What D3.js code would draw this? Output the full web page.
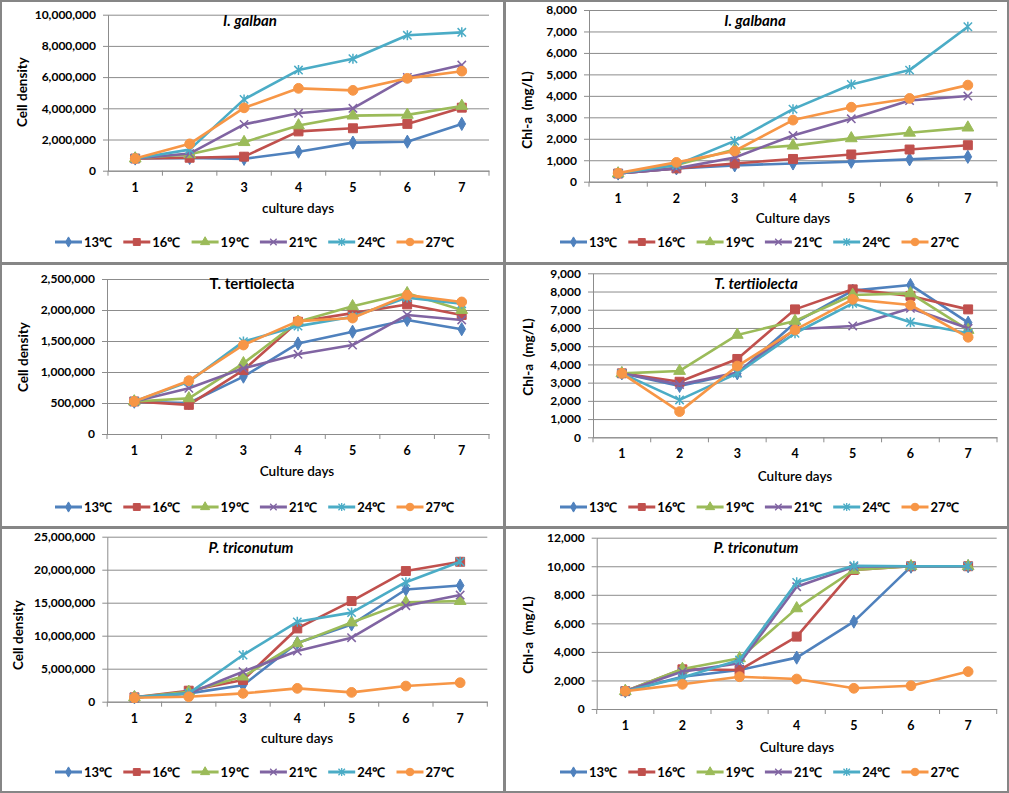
<!DOCTYPE html>
<html><head><meta charset="utf-8">
<script src="https://cdn.jsdelivr.net/npm/d3@7"></script>
<style>
body{margin:0;background:#fff}
text{font-family:Lato,"Open Sans",sans-serif;fill:#000}
</style>
</head><body>
<svg id="c" width="1009" height="793"></svg>
<script>
// ---------- DATA ----------
const days = [1, 2, 3, 4, 5, 6, 7];
const seriesNames = ["13℃", "16℃", "19℃", "21℃", "24℃", "27℃"];

// rows: 13℃, 16℃, 19℃, 21℃, 24℃, 27℃ ; columns: day 1..7
const galbanCell = [
  [780000, 820000, 760000, 1220000, 1800000, 1860000, 3000000],
  [780000, 830000, 900000, 2520000, 2720000, 3000000, 4040000],
  [780000, 1050000, 1830000, 2900000, 3530000, 3580000, 4150000],
  [780000, 1100000, 2970000, 3680000, 4000000, 5980000, 6770000],
  [780000, 1350000, 4570000, 6450000, 7180000, 8680000, 8870000],
  [780000, 1720000, 4030000, 5280000, 5150000, 5920000, 6380000]
];
const galbanaChl = [
  [380, 620, 760, 850, 930, 1040, 1160],
  [380, 620, 850, 1060, 1270, 1500, 1700],
  [380, 780, 1500, 1680, 2020, 2280, 2520],
  [380, 620, 1130, 2150, 2930, 3780, 3990],
  [380, 780, 1900, 3380, 4530, 5200, 7220],
  [400, 900, 1430, 2870, 3470, 3880, 4500]
];
const tertCell = [
  [521000, 500000, 925000, 1460000, 1650000, 1840000, 1690000],
  [525000, 470000, 1030000, 1810000, 1950000, 2090000, 1920000],
  [525000, 575000, 1140000, 1810000, 2060000, 2270000, 2000000],
  [525000, 737000, 1060000, 1285000, 1435000, 1920000, 1840000],
  [525000, 844000, 1490000, 1740000, 1890000, 2200000, 2100000],
  [525000, 860000, 1435000, 1820000, 1870000, 2240000, 2130000]
];
const tertChl = [
  [3510, 2820, 3510, 6290, 8050, 8360, 6290],
  [3510, 3050, 4300, 7020, 8120, 7760, 7020],
  [3510, 3640, 5620, 6380, 7810, 7900, 5890],
  [3510, 2900, 3550, 5930, 6110, 7080, 5980],
  [3510, 2050, 3510, 5710, 7350, 6310, 5710],
  [3510, 1410, 3910, 5890, 7570, 7260, 5490]
];
const phaeoCell = [
  [660000, 1260000, 2500000, 8900000, 11700000, 17000000, 17600000],
  [660000, 1670000, 3280000, 11100000, 15250000, 19800000, 21200000],
  [660000, 1500000, 3800000, 8840000, 12000000, 15050000, 15250000],
  [660000, 1260000, 4550000, 7680000, 9700000, 14550000, 16160000],
  [660000, 1260000, 7070000, 12100000, 13500000, 18100000, 21200000],
  [600000, 760000, 1260000, 2020000, 1410000, 2370000, 2880000]
];
const phaeoChl = [
  [1250, 2260, 2730, 3600, 6120, 9970, 10000],
  [1250, 2780, 2730, 5070, 9740, 10000, 10000],
  [1250, 2800, 3550, 7050, 9740, 10000, 10000],
  [1250, 2620, 3200, 8570, 9970, 10000, 10000],
  [1250, 2200, 3430, 8870, 10040, 10000, 10000],
  [1250, 1730, 2260, 2100, 1450, 1630, 2620]
];

const ticksCell10M = [0, 2000000, 4000000, 6000000, 8000000, 10000000];
const ticksChl8k = [0, 1000, 2000, 3000, 4000, 5000, 6000, 7000, 8000];
const ticksCell2_5M = [0, 500000, 1000000, 1500000, 2000000, 2500000];
const ticksChl9k = [0, 1000, 2000, 3000, 4000, 5000, 6000, 7000, 8000, 9000];
const ticksCell25M = [0, 5000000, 10000000, 15000000, 20000000, 25000000];
const ticksChl12k = [0, 2000, 4000, 6000, 8000, 10000, 12000];

const titles = ["I. galban", "I. galbana", "T. tertiolecta", "T. tertiiolecta", "P. triconutum", "P. triconutum"];
const yLabels = ["Cell density", "Chl-a  (mg/L)", "Cell density", "Chl-a  (mg/L)", "Cell density", "Chl-a  (mg/L)"];
const xLabels = ["culture days", "Culture days", "Culture days", "Culture days", "culture days", "Culture days"];

// ---------- STYLE / LAYOUT ----------
const colors = ["#4F81BD", "#C0504D", "#9BBB59", "#8064A2", "#4BACC6", "#F79646"];

const xSym = { draw(ctx, size) { const r = Math.sqrt(size) / 2; ctx.moveTo(-r, -r); ctx.lineTo(r, r); ctx.moveTo(-r, r); ctx.lineTo(r, -r); } };
const starSym = { draw(ctx, size) { const r = Math.sqrt(size) / 2; ctx.moveTo(-r, -r); ctx.lineTo(r, r); ctx.moveTo(-r, r); ctx.lineTo(r, -r); ctx.moveTo(0, -r * 1.2); ctx.lineTo(0, r * 1.2); } };
const markers = [
  { type: d3.symbolDiamond, size: 50, fill: true },
  { type: d3.symbolSquare, size: 80, fill: true },
  { type: d3.symbolTriangle, size: 60, fill: true },
  { type: xSym, size: 70, fill: false },
  { type: starSym, size: 70, fill: false },
  { type: d3.symbolCircle, size: 75, fill: true }
];

const panels = [
  { data: galbanCell, ticks: ticksCell10M, italic: true, box: [0, 0, 504, 263], plot: [108, 489, 14.7, 170.7], title: [250, 21], yl: [22, 92], xl: [298, 208], lg: [55, 242] },
  { data: galbanaChl, ticks: ticksChl8k, italic: true, box: [504, 0, 504, 263], plot: [589, 997, 10, 181.7], title: [755, 21], yl: [527, 110], xl: [793, 218], lg: [560, 242] },
  { data: tertCell, ticks: ticksCell2_5M, italic: false, box: [0, 263, 504, 264], plot: [107, 489, 279, 434], title: [252, 284], yl: [23, 357], xl: [297, 471], lg: [55, 507] },
  { data: tertChl, ticks: ticksChl9k, italic: true, box: [504, 263, 504, 264], plot: [593, 997, 273.3, 437.3], title: [756, 284], yl: [528, 357], xl: [795, 476], lg: [560, 507] },
  { data: phaeoCell, ticks: ticksCell25M, italic: true, box: [0, 527, 504, 265], plot: [107.3, 487.3, 536.7, 701.7], title: [251, 548], yl: [18, 635], xl: [297, 738], lg: [55, 772] },
  { data: phaeoChl, ticks: ticksChl12k, italic: true, box: [504, 527, 504, 265], plot: [596.7, 996.7, 537.7, 709], title: [756, 548], yl: [528, 635], xl: [797, 747], lg: [560, 772] }
];

const svg = d3.select("#c");
svg.append("rect").attr("width", 1009).attr("height", 793).attr("fill", "#fff");

const fmt = d3.format(",");
const gridColor = "#8c8c8c";

panels.forEach((p, pi) => {
  const [l, r, t, b] = p.plot;
  const g = svg.append("g");
  const x = d3.scaleBand().domain(days).range([l, r]).paddingInner(0).paddingOuter(0);
  const y = d3.scaleLinear().domain([0, d3.max(p.ticks)]).range([b, t]);

  // gridlines
  g.append("g").attr("transform", `translate(${l},0)`)
    .call(d3.axisLeft(y).tickValues(p.ticks).tickSize(-(r - l)).tickFormat(""))
    .call(s => s.select(".domain").remove())
    .call(s => s.selectAll("line").attr("stroke", gridColor).attr("stroke-width", 1));

  // y axis
  g.append("g").attr("transform", `translate(${l},0)`)
    .call(d3.axisLeft(y).tickValues(p.ticks).tickSize(5).tickSizeOuter(0).tickPadding(7).tickFormat(fmt))
    .call(s => s.select(".domain").attr("stroke", gridColor))
    .call(s => s.selectAll("line").attr("stroke", gridColor))
    .call(s => s.selectAll("text").attr("font-size", 12).attr("font-weight", "bold").attr("fill", "#000")
      .style("font-family", "Lato, sans-serif"));

  // x axis
  g.append("g").attr("transform", `translate(0,${b})`)
    .call(d3.axisBottom(x).tickSize(0).tickSizeOuter(0).tickPadding(12))
    .call(s => s.select(".domain").attr("stroke", gridColor))
    .call(s => s.selectAll("text").attr("font-size", 12.5).attr("font-weight", "bold").attr("fill", "#000")
      .style("font-family", "Lato, sans-serif"));
  // category boundary ticks
  const bounds = days.map(d => x(d)).concat([x(days[days.length - 1]) + x.step()]);
  g.selectAll(".bt").data(bounds).join("line")
    .attr("x1", d => d).attr("x2", d => d).attr("y1", b).attr("y2", b + 5)
    .attr("stroke", gridColor);

  // series lines and markers
  const line = d3.line().x((d, i) => x(days[i]) + x.bandwidth() / 2).y(d => y(d));
  p.data.forEach((vals, si) => {
    g.append("path").datum(vals).attr("d", line)
      .attr("fill", "none").attr("stroke", colors[si]).attr("stroke-width", 2.6)
      .attr("stroke-linejoin", "round");
    const m = markers[si];
    g.selectAll(null).data(vals).join("path")
      .attr("transform", (d, i) => `translate(${x(days[i]) + x.bandwidth() / 2},${y(d)})`)
      .attr("d", d3.symbol(m.type, m.size))
      .attr("fill", m.fill ? colors[si] : "none")
      .attr("stroke", colors[si]).attr("stroke-width", m.fill ? 1 : 1.5);
  });

  // title
  g.append("text").attr("x", p.title[0]).attr("y", p.title[1] + 5).attr("text-anchor", "middle")
    .attr("font-size", 15).attr("font-weight", "bold").attr("font-style", p.italic ? "italic" : "normal")
    .text(titles[pi]);
  // y label
  g.append("text").attr("transform", `translate(${p.yl[0] + 4.5},${p.yl[1]}) rotate(-90)`)
    .attr("text-anchor", "middle").attr("font-size", 13.5).attr("font-weight", "bold")
    .attr("xml:space", "preserve").style("white-space", "pre")
    .text(yLabels[pi]);
  // x label
  g.append("text").attr("x", p.xl[0]).attr("y", p.xl[1] + 4.5).attr("text-anchor", "middle")
    .attr("font-size", 13.5).attr("font-weight", "600").text(xLabels[pi]);

  // legend
  const lg = g.append("g");
  seriesNames.forEach((nm, si) => {
    const lx = p.lg[0] + si * 68.3, ly = p.lg[1];
    lg.append("line").attr("x1", lx).attr("x2", lx + 27).attr("y1", ly).attr("y2", ly)
      .attr("stroke", colors[si]).attr("stroke-width", 3);
    const m = markers[si];
    lg.append("path").attr("transform", `translate(${lx + 13.5},${ly})`)
      .attr("d", d3.symbol(m.type, m.size * 0.6))
      .attr("fill", m.fill ? colors[si] : "none").attr("stroke", colors[si]).attr("stroke-width", m.fill ? 1 : 1.3);
    lg.append("text").attr("x", lx + 29).attr("y", ly + 5).attr("font-size", 13).attr("font-weight", "bold").text(nm);
  });

  // panel border
  svg.append("rect").attr("x", p.box[0] + 1).attr("y", p.box[1] + 1)
    .attr("width", p.box[2] - 1).attr("height", p.box[3] - 1)
    .attr("fill", "none").attr("stroke", "#868686").attr("stroke-width", 2);
});
</script>
</body></html>
